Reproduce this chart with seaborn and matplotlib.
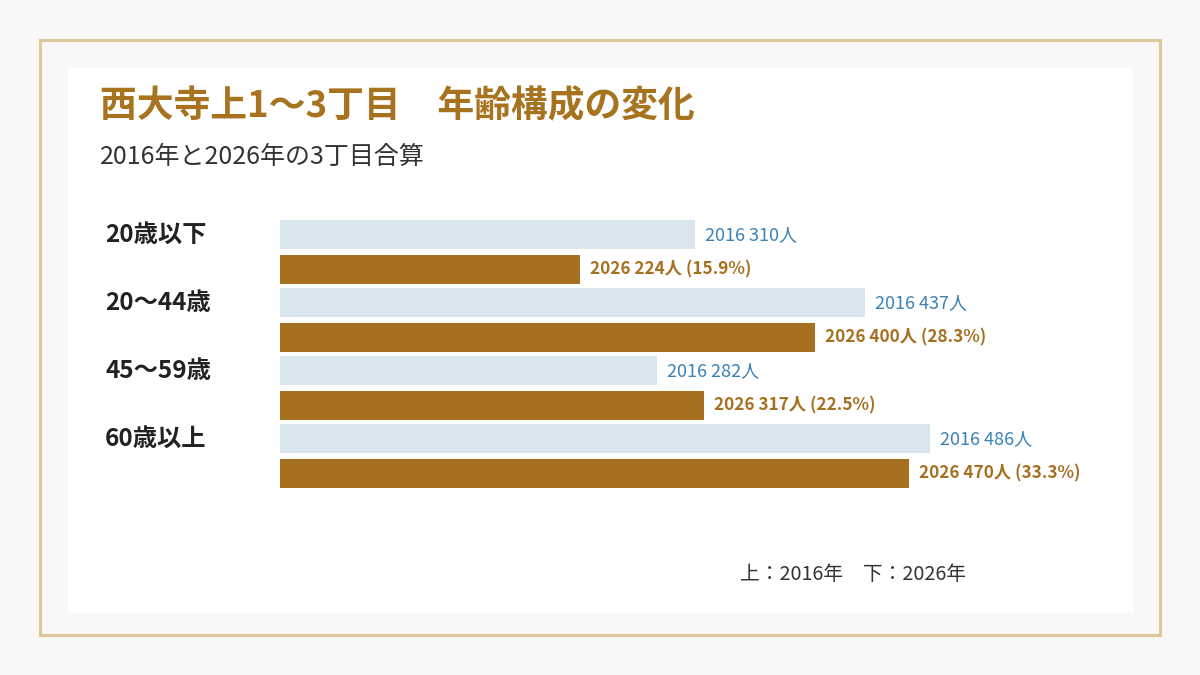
import pandas as pd
import matplotlib.pyplot as plt
import matplotlib.patches as patches
import matplotlib.transforms as mtransforms
import seaborn as sns

# データ
categories = ["20歳以下", "20～44歳", "45～59歳", "60歳以上"]
v2016 = [310, 437, 282, 486]
v2026 = [224, 400, 317, 470]
pct2026 = [15.9, 28.3, 22.5, 33.3]
years = ["2016", "2026"]

df = pd.DataFrame({
    "区分": categories * 2,
    "人数": v2016 + v2026,
    "年": [years[0]] * 4 + [years[1]] * 4,
})

sns.set_theme(style="white")
plt.rcParams['font.family'] = ['Noto Sans CJK JP', 'DejaVu Sans']

W, H = 1200, 675
fig = plt.figure(figsize=(12, 6.75), dpi=100, facecolor="#f9f8f6")

# 外枠と白いパネル
fig.patches.append(patches.Rectangle((40 / W, 40 / H), 1120 / W, 595 / H, transform=fig.transFigure,
                                     facecolor="none", edgecolor="#dfc79c", linewidth=2.2, zorder=-2))
fig.patches.append(patches.Rectangle((68 / W, 62 / H), 1065 / W, 545 / H, transform=fig.transFigure,
                                     facecolor="white", edgecolor="none", zorder=-1))

# バー
top_px, bot_px = 218, 490
ax = fig.add_axes([280 / W, 1 - bot_px / H, 803 / W, (bot_px - top_px) / H])
ax.set_facecolor("none")
bar_w = 1.015
sns.barplot(data=df, y="区分", x="人数", hue="年", hue_order=years, orient="h",
            palette={"2016": "#dae6ee", "2026": "#a67021"}, width=bar_w, gap=0.174,
            saturation=1, linewidth=0, ax=ax, legend=False)
ax.set_xlim(0, 600)
ax.set_ylim(3.5, -0.5)
ax.set_xlabel("")
ax.set_ylabel("")
ax.set_xticks([])
ax.set_yticks([])
sns.despine(ax=ax, left=True, bottom=True)

trans = mtransforms.blended_transform_factory(fig.transFigure, ax.transData)
off = bar_w / 4
for i, cat in enumerate(categories):
    ax.text(105 / W, i - off, cat, transform=trans, ha="left", va="center",
            fontsize=17.5, fontweight="bold", color="#222222")
    ax.annotate(f"2016 {v2016[i]}人", (v2016[i], i - off), xytext=(7, 0), textcoords="offset points",
                ha="left", va="center", fontsize=13, color="#3b82b6")
    ax.annotate(f"2026 {v2026[i]}人 ({pct2026[i]}%)", (v2026[i], i + off), xytext=(7, 0),
                textcoords="offset points", ha="left", va="center", fontsize=12.4,
                fontweight="bold", color="#a67021")

# タイトル
fig.text(100 / W, 1 - 107 / H, "西大寺上1～3丁目　年齢構成の変化", ha="left", va="center",
         fontsize=26.5, fontweight="bold", color="#a8731f")
fig.text(100 / W, 1 - 157 / H, "2016年と2026年の3丁目合算", ha="left", va="center",
         fontsize=18, color="#333333")
fig.text(740 / W, 1 - 574 / H, "上：2016年　下：2026年", ha="left", va="center",
         fontsize=14.2, color="#333333")

fig.savefig("out.png", dpi=100, facecolor=fig.get_facecolor())
